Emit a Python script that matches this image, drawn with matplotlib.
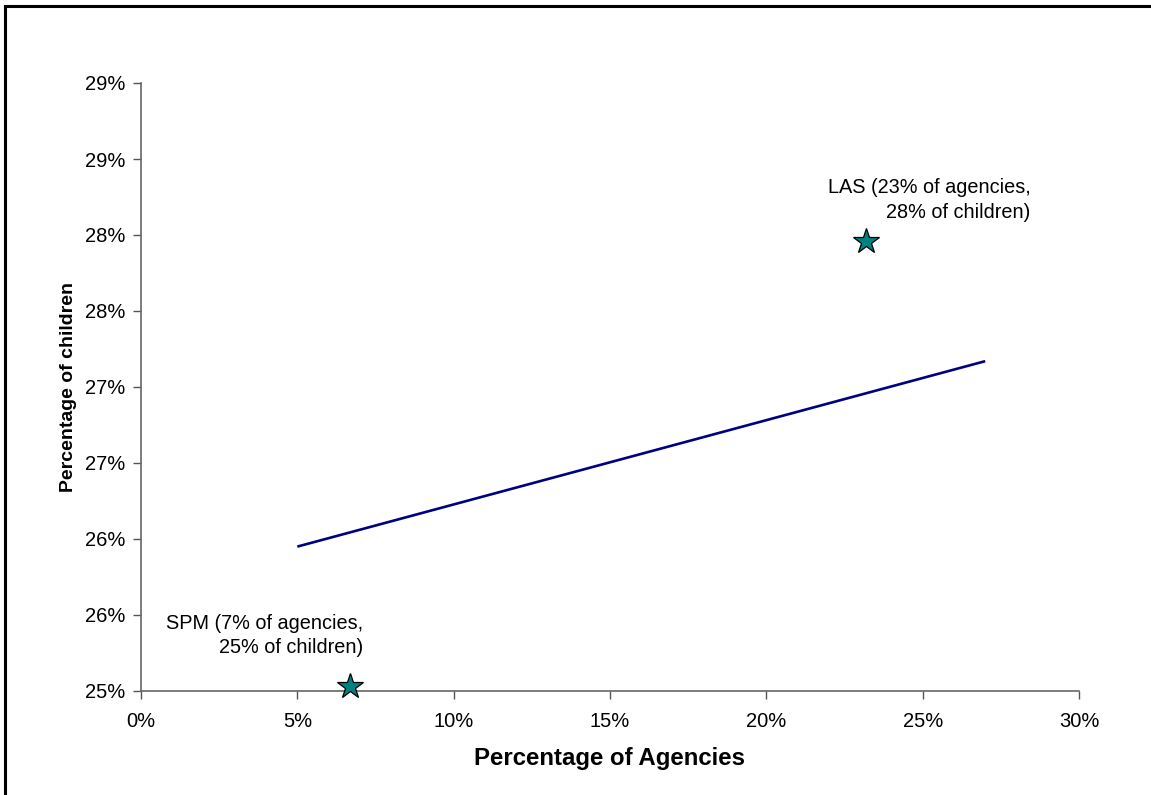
import matplotlib
matplotlib.use("Agg")
import matplotlib.pyplot as plt
from matplotlib.lines import Line2D
from matplotlib.ticker import FuncFormatter, MultipleLocator

plt.rcParams["font.family"] = ["Liberation Sans", "DejaVu Sans"]

# -----------------------------
# Data
# -----------------------------
point_names = ["LAS", "SPM"]
agencies = [0.232, 0.067]
children = [0.2796, 0.2503]
point_labels = [
    "LAS (23% of agencies,\n28% of children)",
    "SPM (7% of agencies,\n25% of children)",
]

trend_x = [0.05, 0.27]
trend_y = [0.2595, 0.2717]


# -----------------------------
# Figure
# -----------------------------
W, H = 1151, 795
fig = plt.figure(figsize=(W / 100, H / 100), dpi=100)
ax = fig.add_axes([141 / W, (H - 691) / H, (1079 - 141) / W, (691 - 83) / H])

ax.plot(trend_x, trend_y, color="#000080", lw=1.9, solid_capstyle="butt")

ax.plot(agencies, children, linestyle="none", marker="*", markersize=19,
        markerfacecolor="#008080", markeredgecolor="black",
        markeredgewidth=0.9, clip_on=False, zorder=5)

offsets = [(118, 14), (9, 21)]
for x, y, txt, off in zip(agencies, children, point_labels, offsets):
    ax.annotate(txt, (x, y), xytext=off, textcoords="offset points",
                ha="right", va="bottom", multialignment="right",
                fontsize=14.3, linespacing=1.35, color="black")

ax.set_xlim(0, 0.30)
ax.set_ylim(0.25, 0.29)
ax.xaxis.set_major_locator(MultipleLocator(0.05))
ax.yaxis.set_major_locator(MultipleLocator(0.005))


def pct(v, pos):
    return f"{int(v * 100 + 0.5 + 1e-9)}%"


ax.xaxis.set_major_formatter(FuncFormatter(pct))
ax.yaxis.set_major_formatter(FuncFormatter(pct))

ax.tick_params(direction="out", length=6, width=1, color="#555555",
               labelsize=14.5)
ax.tick_params(axis="y", pad=5)
ax.tick_params(axis="x", pad=9)

for side in ["top", "right"]:
    ax.spines[side].set_visible(False)
for side in ["left", "bottom"]:
    ax.spines[side].set_color("#666666")
    ax.spines[side].set_linewidth(1.2)

ax.set_xlabel("Percentage of Agencies", fontsize=17.3, fontweight="bold",
              labelpad=12)
ax.set_ylabel("Percentage of children", fontsize=14, fontweight="bold",
              labelpad=6)

# outer frame (top and left edges)
fig.add_artist(Line2D([5 / W, 1.0], [1 - 5.5 / H, 1 - 5.5 / H],
                      transform=fig.transFigure, color="black", lw=2.2))
fig.add_artist(Line2D([5 / W, 5 / W], [0.0, 1 - 5.5 / H],
                      transform=fig.transFigure, color="black", lw=2.2))

fig.savefig("out.png", dpi=100)
plt.close(fig)
